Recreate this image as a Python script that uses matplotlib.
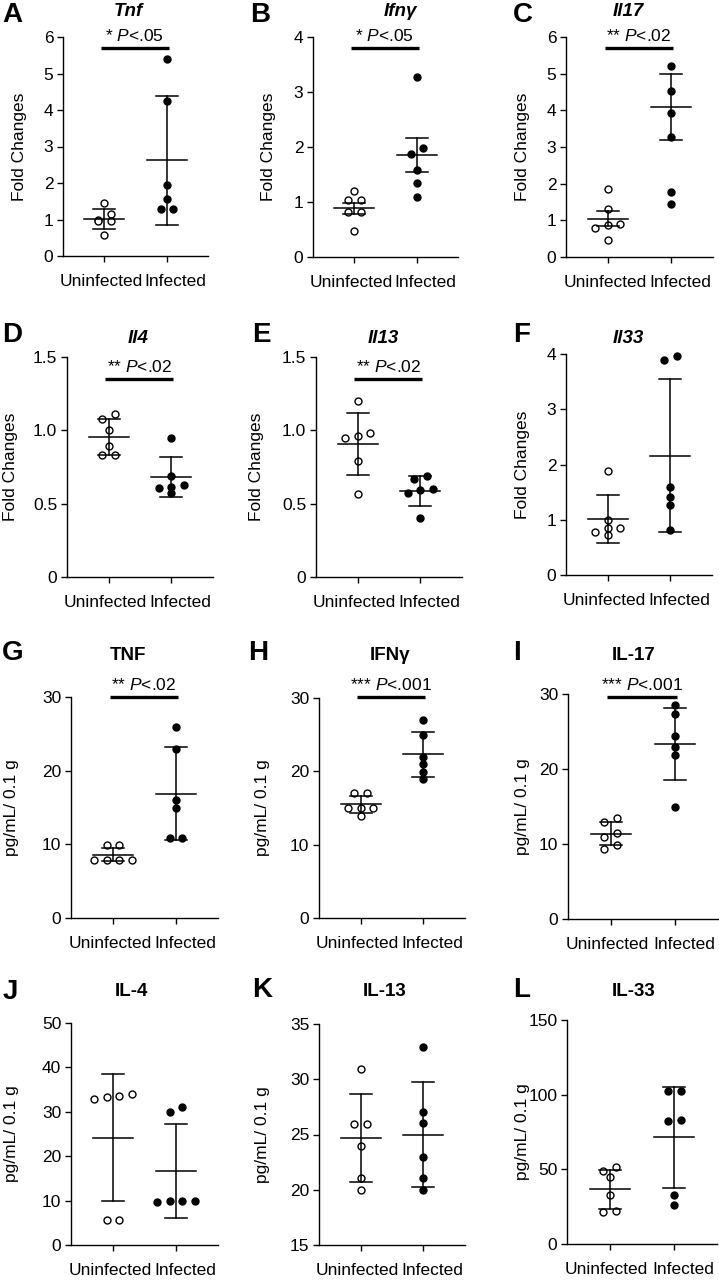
import numpy as np
import matplotlib
matplotlib.use('Agg')
import matplotlib.pyplot as plt
from matplotlib import transforms

plt.rcParams['font.family'] = ['Liberation Sans', 'DejaVu Sans']
plt.rcParams['mathtext.fontset'] = 'custom'
plt.rcParams['mathtext.rm'] = 'Liberation Sans'
plt.rcParams['mathtext.it'] = 'Liberation Sans:italic'

# ---- data ----
LETTERS = list('ABCDEFGHIJKL')
TITLES = ['Tnf', 'Ifnγ', 'Il17', 'Il4', 'Il13', 'Il33',
          'TNF', 'IFNγ', 'IL-17', 'IL-4', 'IL-13', 'IL-33']
GROUPS = ['Uninfected', 'Infected']
YLABELS = ['Fold Changes'] * 6 + ['pg/mL/ 0.1 g'] * 6
YTICKS = [[0, 1, 2, 3, 4, 5, 6], [0, 1, 2, 3, 4], [0, 1, 2, 3, 4, 5, 6],
          [0, 0.5, 1.0, 1.5], [0, 0.5, 1.0, 1.5], [0, 1, 2, 3, 4],
          [0, 10, 20, 30], [0, 10, 20, 30], [0, 10, 20, 30],
          [0, 10, 20, 30, 40, 50], [15, 20, 25, 30, 35], [0, 50, 100, 150]]

UNINFECTED = [
    [1.46, 1.15, 0.99, 0.97, 0.96, 0.58],
    [1.20, 1.03, 1.03, 0.81, 0.81, 0.48],
    [1.85, 1.32, 0.90, 0.86, 0.80, 0.46],
    [1.11, 1.08, 1.00, 0.89, 0.83, 0.83],
    [1.20, 0.98, 0.96, 0.95, 0.79, 0.565],
    [1.885, 1.00, 0.846, 0.846, 0.786, 0.725],
    [9.9, 9.9, 7.9, 7.9, 7.9, 7.9],
    [16.99, 16.99, 15.04, 15.04, 15.04, 13.96],
    [13.45, 13.0, 11.45, 11.0, 9.81, 9.37],
    [34.1, 33.5, 33.4, 32.9, 5.64, 5.64],
    [30.95, 25.97, 25.97, 24.0, 21.04, 20.0],
    [51.3, 48.9, 45.1, 32.8, 22.3, 21.4],
]
INFECTED = [
    [5.40, 4.25, 1.95, 1.56, 1.28, 1.28],
    [3.27, 1.98, 1.87, 1.59, 1.35, 1.10],
    [5.20, 4.54, 3.92, 3.26, 1.78, 1.44],
    [0.95, 0.69, 0.63, 0.615, 0.61, 0.575],
    [0.69, 0.67, 0.60, 0.59, 0.57, 0.40],
    [3.96, 3.90, 1.59, 1.42, 1.26, 0.82],
    [25.9, 22.9, 16.0, 14.9, 10.9, 10.9],
    [26.96, 25.0, 21.98, 20.98, 19.94, 18.99],
    [28.5, 27.4, 24.4, 23.0, 21.9, 15.0],
    [31.0, 29.85, 10.0, 10.0, 10.0, 9.62],
    [32.95, 27.0, 26.0, 23.0, 21.04, 20.0],
    [102.7, 102.7, 83.0, 82.4, 32.8, 25.9],
]
UNINF_MEAN = [1.02, 0.89, 1.05, 0.955, 0.907, 1.015, 8.6, 15.5, 11.36, 24.2, 24.67, 36.6]
UNINF_ERR = [0.28, 0.10, 0.20, 0.12, 0.21, 0.44, 0.9, 1.2, 1.55, 14.3, 3.95, 13.0]
INF_MEAN = [2.62, 1.86, 4.10, 0.68, 0.587, 2.16, 16.9, 22.3, 23.35, 16.7, 25.0, 71.4]
INF_ERR = [1.76, 0.31, 0.90, 0.137, 0.10, 1.39, 6.27, 3.05, 4.8, 10.6, 4.75, 33.9]

SIG_STARS = ['*', '*', '**', '**', '**', None, '**', '***', '***', None, None, None]
SIG_P = ['.05', '.05', '.02', '.02', '.02', None, '.02', '.001', '.001', None, None, None]

# ---- layout (figure pixels) ----
W, H = 719, 1281
AX_BOX = [(63, 208, 37, 256), (313, 458, 37, 257), (566, 713, 37, 257),
          (67, 213, 357, 577), (316, 462, 357, 577), (566, 712, 354, 575),
          (71, 218, 697, 918), (319, 465, 698, 918), (568, 718, 694, 919),
          (71, 218, 1023, 1245), (319, 465, 1024, 1245), (567, 717, 1020, 1244)]
TITLE_XY = [(128, 11), (400, 11), (628, 11), (138, 338), (383, 338), (628, 338),
            (128, 655), (390, 655), (634, 655), (131, 992), (385, 992), (634, 992)]
LETTER_XY = [(12, 15), (260, 15), (523, 15), (12, 335), (261, 335), (522, 335),
             (13, 653), (258, 653), (517, 653), (10, 992), (262, 990), (522, 990)]
YLABEL_DX = [-43, -45, -44, -57, -59, -44, -59, -56, -45, -59, -57, -44]
SIG_BAR_Y = [48, 48, 48, 379, 379, None, 697, 697, 697, None, None, None]
XLIM = (-0.66, 1.66)
FS = 12.5


def fmt_tick(v, ticks):
    if v == 0:
        return '0'
    if any(t != int(t) for t in ticks):
        return '%.1f' % v
    return '%d' % v


def swarm(values, px_y, h=6.5, s=12.5):
    """Prism-like horizontal spread of points (returns pixel offsets)"""
    values = np.asarray(values, dtype=float)
    order = np.argsort(-values, kind='stable')
    rows = []
    for k in order:
        if rows and (values[rows[-1][0]] - values[k]) * px_y < h:
            rows[-1].append(k)
        else:
            rows.append([k])
    off = np.zeros(len(values))
    for row in rows:
        row = sorted(row, key=lambda k: values[k])
        n = len(row)
        for j, k in enumerate(row):
            off[k] = (j - (n - 1) / 2) * s
    return off


fig = plt.figure(figsize=(W / 100, H / 100), dpi=100)

for i in range(12):
    l, r, t, b = AX_BOX[i]
    ax = fig.add_axes([l / W, 1 - b / H, (r - l) / W, (b - t) / H])
    ticks = YTICKS[i]
    ax.set_xlim(*XLIM)
    ax.set_ylim(ticks[0], ticks[-1])
    px_x = (r - l) / (XLIM[1] - XLIM[0])
    px_y = (b - t) / (ticks[-1] - ticks[0])

    for spine in ['top', 'right']:
        ax.spines[spine].set_visible(False)
    for spine in ['left', 'bottom']:
        ax.spines[spine].set_linewidth(1.0)

    ax.set_yticks(ticks)
    ax.set_yticklabels([fmt_tick(v, ticks) for v in ticks], fontsize=FS)
    ax.tick_params(axis='y', length=4, width=1.0, pad=3)
    ax.set_xticks([0, 1])
    ax.set_xticklabels(GROUPS, fontsize=FS)
    ax.tick_params(axis='x', length=4, width=1.0, pad=9)
    for lab, dx in zip(ax.get_xticklabels(), [-3, 9]):
        lab.set_transform(lab.get_transform() +
                          transforms.ScaledTranslation(dx / 100, 0, fig.dpi_scale_trans))

    ax.set_ylabel(YLABELS[i], fontsize=FS, va='center')
    ax.yaxis.set_label_coords(YLABEL_DX[i] / (r - l), 0.5)

    groups = [UNINFECTED[i], INFECTED[i]]
    means = [UNINF_MEAN[i], INF_MEAN[i]]
    errs = [UNINF_ERR[i], INF_ERR[i]]
    for g in range(2):
        vals = np.array(groups[g])
        xs = g + swarm(vals, px_y) / px_x
        if g == 0:
            ax.plot(xs, vals, 'o', ms=5, mfc='white', mec='black', mew=1.0,
                    zorder=2, clip_on=False)
        else:
            ax.plot(xs, vals, 'o', ms=5, mfc='black', mec='black', mew=1.0,
                    zorder=2, clip_on=False)
        m, e = means[g], errs[g]
        hw = 20 / px_x
        cw = 11 / px_x
        ax.plot([g - hw, g + hw], [m, m], color='black', lw=1.1, zorder=3)
        ax.plot([g, g], [m - e, m + e], color='black', lw=1.1, zorder=3)
        ax.plot([g - cw, g + cw], [m + e, m + e], color='black', lw=1.1, zorder=3)
        ax.plot([g - cw, g + cw], [m - e, m - e], color='black', lw=1.1, zorder=3)

    if SIG_STARS[i] is not None:
        yf = (b - SIG_BAR_Y[i]) / (b - t)
        trans = ax.get_xaxis_transform()
        ax.plot([-0.05, 1.03], [yf, yf], color='black', lw=2.4,
                transform=trans, clip_on=False, solid_capstyle='butt')
        ax.annotate(SIG_STARS[i] + ' $\\mathit{P}$<' + SIG_P[i],
                    xy=(0.49, yf), xycoords=trans, xytext=(0, 3),
                    textcoords='offset points', ha='center', va='bottom',
                    fontsize=FS, annotation_clip=False)

    tx, ty = TITLE_XY[i]
    fig.text(tx / W, 1 - ty / H, TITLES[i], ha='center', va='center',
             fontsize=13.5, fontweight='bold', fontstyle='italic' if i < 6 else 'normal')
    lx, ly = LETTER_XY[i]
    fig.text(lx / W, 1 - ly / H, LETTERS[i], ha='center', va='center',
             fontsize=20, fontweight='bold')

fig.savefig('out.png', dpi=100)
